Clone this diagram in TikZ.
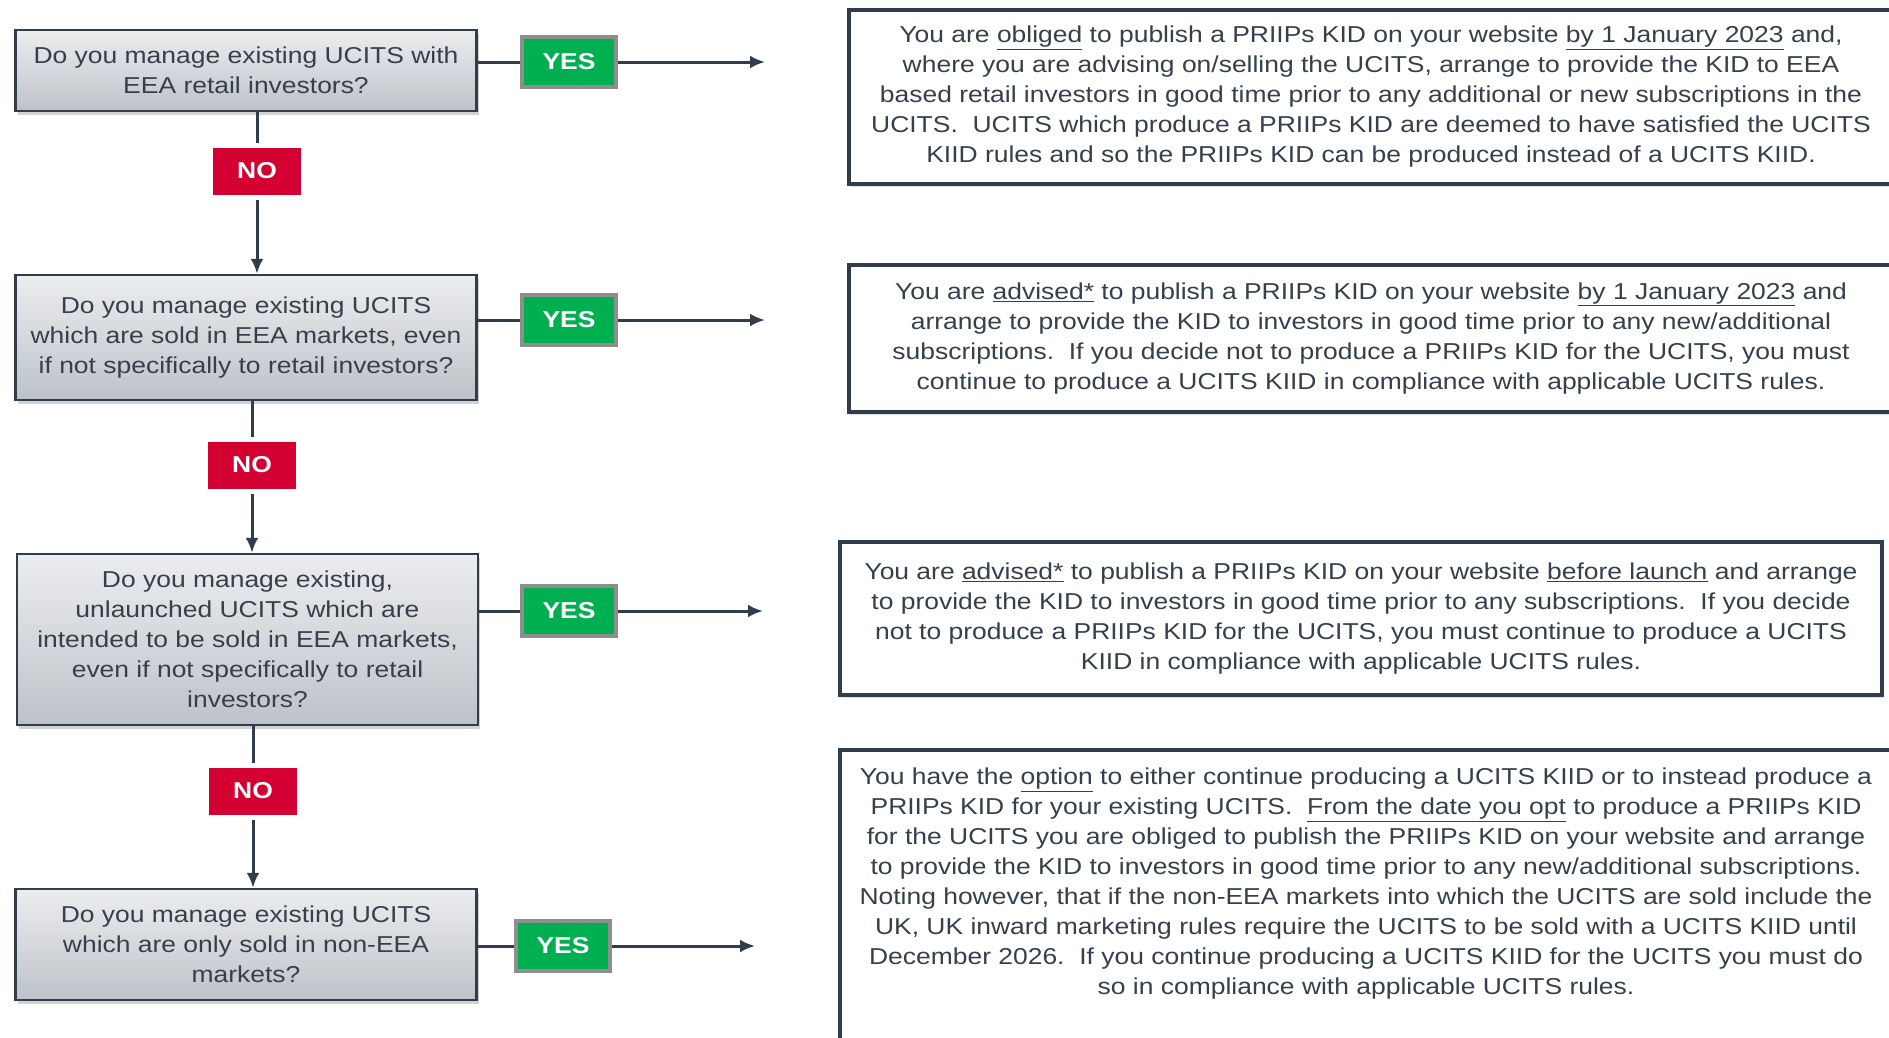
\documentclass[tikz,border=0pt]{standalone}
\usepackage{fontspec}
\setmainfont{Liberation Sans}[FakeStretch=1.15]
\usetikzlibrary{arrows.meta,shadows}
\definecolor{slate}{HTML}{2F3D4C}
\definecolor{txt}{HTML}{36404C}
\definecolor{boxtop}{HTML}{ECEDEF}
\definecolor{boxbot}{HTML}{BEC2C8}
\definecolor{yesgreen}{HTML}{00B050}
\definecolor{yesrim}{HTML}{8E8E8E}
\definecolor{nored}{HTML}{D50032}
\begin{document}
\begin{tikzpicture}[x=1pt,y=-1pt,
    question/.style={draw=slate, line width=2.5pt, top color=boxtop, bottom color=boxbot,
      minimum width=461pt, align=center, text=txt, font=\fontsize{23}{30}\selectfont,
      drop shadow={shadow xshift=2pt, shadow yshift=-4pt, opacity=0.35}},
    yesbox/.style={fill=yesgreen, draw=yesrim, line width=4pt, minimum width=94pt,
      minimum height=50pt, text=white, font=\bfseries\fontsize{23}{26}\selectfont},
    nobox/.style={fill=nored, draw=white, line width=5pt, minimum width=93pt,
      minimum height=52pt, text=white, font=\bfseries\fontsize{23}{26}\selectfont,
      drop shadow={shadow xshift=1pt, shadow yshift=-3pt, opacity=0.3}},
    answer/.style={draw=slate, line width=4pt, fill=white, align=center, text=txt,
      font=\fontsize{23}{30}\selectfont,
      drop shadow={shadow xshift=1pt, shadow yshift=-3pt, opacity=0.25}},
    link/.style={draw=slate, line width=3pt}]
  \useasboundingbox (0,0) rectangle (1889,1037);
  \clip (0,0) rectangle (1889,1037);
  \fill[white] (0,0) rectangle (1889,1037);

  % questions
  \draw
    (246,70.5) node[question, minimum height=81pt] (q1)
      {Do you manage existing UCITS with\\EEA retail investors?}
    (246,337.5) node[question, minimum height=125pt] (q2)
      {Do you manage existing UCITS\\which are sold in EEA markets, even\\if not specifically to retail investors?}
    (247.5,639.5) node[question, minimum height=171pt] (q3)
      {Do you manage existing,\\unlaunched UCITS which are\\intended to be sold in EEA markets,\\even if not specifically to retail\\investors?}
    (246,944.5) node[question, minimum height=111pt] (q4)
      {Do you manage existing UCITS\\which are only sold in non-EEA\\markets?};

  % yes / no labels
  \draw
    (569,62) node[yesbox] (yes1) {YES}
    (569,320) node[yesbox] (yes2) {YES}
    (569,611) node[yesbox] (yes3) {YES}
    (563,946) node[yesbox] (yes4) {YES}
    (257,171) node[nobox] (no1) {NO}
    (252,465) node[nobox] (no2) {NO}
    (253,791) node[nobox] (no3) {NO};
  \coordinate (t1) at (765,62);
  \coordinate (t2) at (765,320);
  \coordinate (t3) at (763,611);
  \coordinate (t4) at (755,946);

  % answers
  \draw
    (1371,97) node[answer, minimum width=1044pt, minimum height=174pt] (a1)
      {You are \underline{obliged} to publish a PRIIPs KID on your website \underline{by 1 January 2023} and,\\
       where you are advising on/selling the UCITS, arrange to provide the KID to EEA\\
       based retail investors in good time prior to any additional or new subscriptions in the\\
       UCITS.\ \ UCITS which produce a PRIIPs KID are deemed to have satisfied the UCITS\\
       KIID rules and so the PRIIPs KID can be produced instead of a UCITS KIID.}
    (1371,338.5) node[answer, minimum width=1044pt, minimum height=147pt] (a2)
      {You are \underline{advised*} to publish a PRIIPs KID on your website \underline{by 1 January 2023} and\\
       arrange to provide the KID to investors in good time prior to any new/additional\\
       subscriptions.\ \ If you decide not to produce a PRIIPs KID for the UCITS, you must\\
       continue to produce a UCITS KIID in compliance with applicable UCITS rules.}
    (1361,618.5) node[answer, minimum width=1042pt, minimum height=153pt] (a3)
      {You are \underline{advised*} to publish a PRIIPs KID on your website \underline{before launch} and arrange\\
       to provide the KID to investors in good time prior to any subscriptions.\ \ If you decide\\
       not to produce a PRIIPs KID for the UCITS, you must continue to produce a UCITS\\
       KIID in compliance with applicable UCITS rules.}
    (1366,748) node[answer, anchor=north, minimum width=1052pt, inner ysep=18pt, text depth=60pt] (a4)
      {You have the \underline{option} to either continue producing a UCITS KIID or to instead produce a\\
       PRIIPs KID for your existing UCITS.\ \ \underline{From the date you opt} to produce a PRIIPs KID\\
       for the UCITS you are obliged to publish the PRIIPs KID on your website and arrange\\
       to provide the KID to investors in good time prior to any new/additional subscriptions.\\
       Noting however, that if the non-EEA markets into which the UCITS are sold include the\\
       UK, UK inward marketing rules require the UCITS to be sold with a UCITS KIID until\\
       December 2026.\ \ If you continue producing a UCITS KIID for the UCITS you must do\\
       so in compliance with applicable UCITS rules.};

  \begin{scope}[link, -{Latex[length=15pt,width=13pt]}]
    \draw[-] (q1.east |- yes1.west) to (yes1.west);
    \draw (yes1.east) to (t1);
    \draw[-] (q2.east |- yes2.west) to (yes2.west);
    \draw (yes2.east) to (t2);
    \draw[-] (q3.east |- yes3.west) to (yes3.west);
    \draw (yes3.east) to (t3);
    \draw[-] (q4.east |- yes4.west) to (yes4.west);
    \draw (yes4.east) to (t4);
    \draw[-] (q1.south -| no1.north) to (no1.north);
    \draw (no1.south) to (q2.north -| no1.south);
    \draw[-] (q2.south -| no2.north) to (no2.north);
    \draw (no2.south) to (q3.north -| no2.south);
    \draw[-] (q3.south -| no3.north) to (no3.north);
    \draw (no3.south) to (q4.north -| no3.south);
  \end{scope}
\end{tikzpicture}
\end{document}
